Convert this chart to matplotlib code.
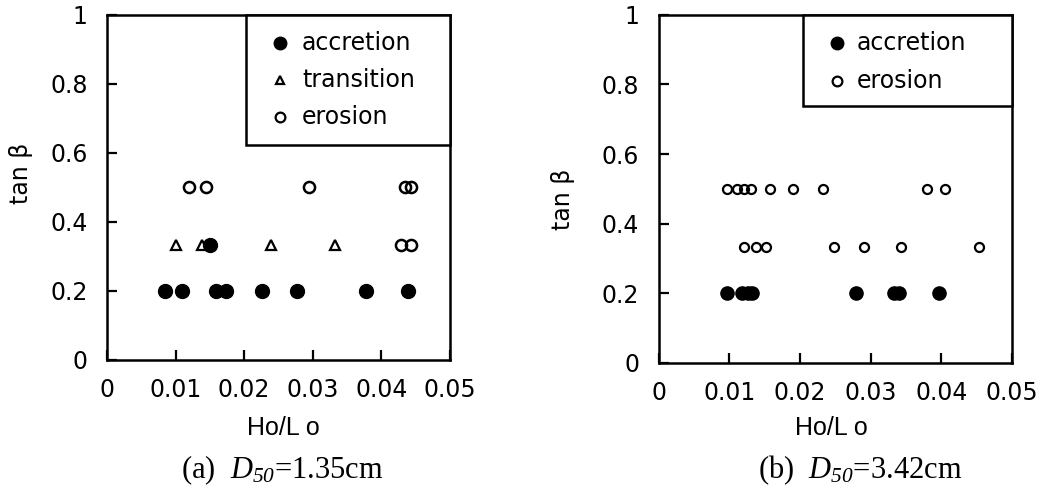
import matplotlib
matplotlib.use("Agg")
import matplotlib.pyplot as plt
from matplotlib.patches import Rectangle

plt.rcParams["font.family"] = ["DejaVu Sans"]
plt.rcParams["mathtext.fontset"] = "custom"
plt.rcParams["mathtext.rm"] = "Liberation Serif"
plt.rcParams["mathtext.it"] = "Liberation Serif:italic"
# italic face for the numeric subscript (mathtext keeps digits upright in \mathit)
plt.rcParams["mathtext.sf"] = "Liberation Serif:italic"

# ---- (a) D50 = 1.35 cm ----
a_accretion_x = [0.0084, 0.0109, 0.0159, 0.0174, 0.0226, 0.0277, 0.0377, 0.0439, 0.0150]
a_accretion_y = [0.2, 0.2, 0.2, 0.2, 0.2, 0.2, 0.2, 0.2, 0.333]
a_transition_x = [0.0101, 0.0138, 0.0239, 0.0333]
a_transition_y = [0.333, 0.333, 0.333, 0.333]
a_erosion_x = [0.0120, 0.0145, 0.0294, 0.0435, 0.0443, 0.0429, 0.0443]
a_erosion_y = [0.5, 0.5, 0.5, 0.5, 0.5, 0.333, 0.333]

# ---- (b) D50 = 3.42 cm ----
b_accretion_x = [0.0097, 0.0118, 0.0127, 0.0132, 0.0279, 0.0333, 0.0340, 0.0397]
b_accretion_y = [0.2] * 8
b_erosion_x = [0.0097, 0.0111, 0.0120, 0.0131, 0.0158, 0.0190, 0.0233, 0.0380, 0.0405,
               0.0121, 0.0137, 0.0152, 0.0248, 0.0291, 0.0343, 0.0453]
b_erosion_y = [0.5] * 9 + [0.333] * 7

x_ticks = [0, 0.01, 0.02, 0.03, 0.04, 0.05]
x_ticklabels = ["0", "0.01", "0.02", "0.03", "0.04", "0.05"]
y_ticks = [0, 0.2, 0.4, 0.6, 0.8, 1.0]
y_ticklabels = ["0", "0.2", "0.4", "0.6", "0.8", "1"]

captions = [r"(a)  $D_{\mathsf{50}}$=1.35cm", r"(b)  $D_{\mathsf{50}}$=3.42cm"]

fig = plt.figure(figsize=(10.39, 4.97), dpi=100)
ax_a = fig.add_axes([0.103, 0.276, 0.330, 0.694])
ax_b = fig.add_axes([0.634, 0.270, 0.340, 0.700])

narrow = ["Liberation Sans Narrow", "DejaVu Sans Condensed", "Liberation Sans"]


def style_axes(ax):
    ax.set_xlim(0, 0.05)
    ax.set_ylim(0, 1)
    ax.set_xticks(x_ticks)
    ax.set_xticklabels(x_ticklabels)
    ax.set_yticks(y_ticks)
    ax.set_yticklabels(y_ticklabels)
    ax.tick_params(direction="in", length=7, width=1.6, labelsize=17,
                   top=False, right=False)
    ax.tick_params(axis="y", pad=14)
    ax.tick_params(axis="x", pad=13)
    for s in ax.spines.values():
        s.set_linewidth(1.8)
    ax.set_ylabel("tan β", fontsize=17)
    ax.set_xlabel("Ho/L o", fontsize=18, family=narrow, va="center")


def draw_legend(ax, x0, y0, entries, ys, mx, tx):
    ax.add_patch(Rectangle((x0, y0), 1 - x0, 1 - y0, transform=ax.transAxes,
                           facecolor="white", edgecolor="black", lw=1.8,
                           zorder=5, clip_on=False))
    for (marker, ms, mfc, mew, label), y in zip(entries, ys):
        ax.plot([mx], [y], marker=marker, ms=ms, mfc=mfc, mec="black", mew=mew,
                ls="none", transform=ax.transAxes, zorder=6, clip_on=False)
        ax.text(tx, y, label, transform=ax.transAxes, fontsize=17,
                va="center", ha="left", zorder=6)


# panel (a)
style_axes(ax_a)
ax_a.plot(a_erosion_x, a_erosion_y, "o", ms=8, mfc="none", mec="black", mew=1.8, zorder=3)
ax_a.plot(a_transition_x, a_transition_y, "^", ms=6.5, mfc="white", mec="black", mew=1.6, zorder=3)
ax_a.plot(a_accretion_x, a_accretion_y, "o", ms=10, mfc="black", mec="black", zorder=4)
ax_a.yaxis.set_label_coords(-0.216, 0.54)
ax_a.xaxis.set_label_coords(0.513, -0.197)
draw_legend(ax_a, 0.405, 0.623,
            [("o", 9, "black", 1.0, "accretion"),
             ("^", 6, "white", 1.6, "transition"),
             ("o", 7, "white", 1.6, "erosion")],
            [0.919, 0.812, 0.704], 0.504, 0.569)

# panel (b)
style_axes(ax_b)
ax_b.plot(b_erosion_x, b_erosion_y, "o", ms=6.5, mfc="none", mec="black", mew=1.6, zorder=3)
ax_b.plot(b_accretion_x, b_accretion_y, "o", ms=9.5, mfc="black", mec="black", zorder=4)
ax_b.yaxis.set_label_coords(-0.238, 0.47)
ax_b.xaxis.set_label_coords(0.49, -0.187)
draw_legend(ax_b, 0.408, 0.738,
            [("o", 9, "black", 1.0, "accretion"),
             ("o", 7, "white", 1.6, "erosion")],
            [0.920, 0.810], 0.504, 0.561)

fig.text(0.272, 0.054, captions[0], family="Liberation Serif", fontsize=22,
         ha="center", va="center")
fig.text(0.828, 0.054, captions[1], family="Liberation Serif", fontsize=22,
         ha="center", va="center")

fig.savefig("out.png", dpi=100)
